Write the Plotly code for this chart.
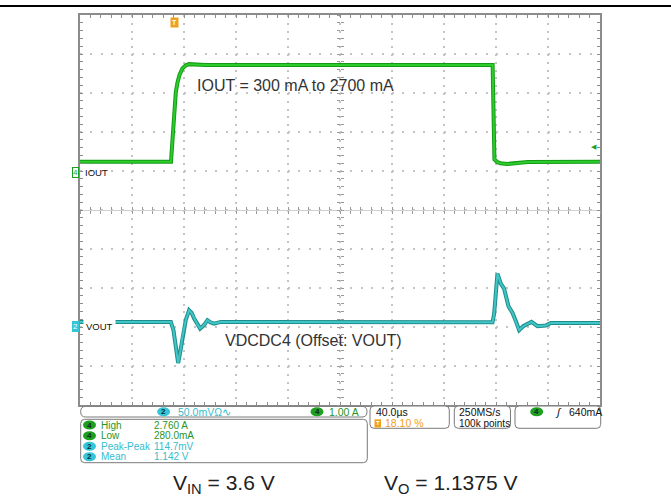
import plotly.graph_objects as go

# ---------------- data ----------------
TIME_PER_DIV_US = 40.0        # horizontal scale
TRIGGER_POS_PCT = 18.10       # trigger position in record
N_DIV = 10
CH4_A_PER_DIV = 1.0           # IOUT scale
CH4_OFFSET_DIV = 0.97         # ground marker position (div above centre)
CH2_MV_PER_DIV = 50.0         # VOUT scale (AC around offset)
CH2_OFFSET_DIV = -2.98        # VOUT offset marker position (div from centre)
TRIG_LEVEL_A = 0.64

iout_t_us = [-72.4, -2.4, -1.0, 0.0, 1.3, 2.6, 4.2, 6.4, 9.0, 11.5, 16.0, 24.0,
             245.0, 245.8, 246.4, 248.5, 251.0, 256.0, 262.0, 272.0, 327.6]
iout_a = [0.27, 0.27, 0.95, 1.55, 2.05, 2.30, 2.50, 2.66, 2.74, 2.77, 2.76, 2.75,
          2.75, 1.20, 0.33, 0.26, 0.23, 0.21, 0.22, 0.26, 0.27]

vout_t_us = [-72.4, -2.5, -0.5, 0.8, 3.1, 5.0, 6.4, 9.0, 11.5, 13.5, 15.4, 18.0, 20.0,
             23.0, 25.6, 28.0, 30.8, 35.9, 244.9, 246.2, 248.7, 251.3, 253.8, 257.2,
             260.3, 263.0, 265.4, 268.5, 274.9, 279.5, 285.9, 289.8, 327.6]
vout_mv = [5.5, 5.5, -5.0, -22.0, -47.2, -30.0, -13.7, 8.0, 20.5, 17.0, 9.8, 2.0, -3.0,
           1.5, 7.7, 5.0, 3.4, 5.5, 5.0, 16.2, 67.5, 54.7, 48.3, 25.6,
           17.0, 6.0, -5.1, 0.0, 5.5, 0.0, 0.9, 4.2, 4.0]

meas_labels = ["High", "Low", "Peak-Peak", "Mean"]
meas_values = ["2.760 A", "280.0mA", "114.7mV", "1.142 V"]
meas_channels = ["4", "4", "2", "2"]

# ---------------- geometry helpers ----------------
W, H = 671, 501
PL, PR, PT, PB = 80, 600, 15, 405


def fx(p):
    return p / W


def fy(p):
    return 1 - p / H


GREEN = "#1f9f1f"
GREEN_TXT = "#279627"
CYAN = "#33c6d8"
CYAN_TXT = "#36bccc"
ORANGE = "#f0a020"
FONT = "Liberation Sans, Arial, sans-serif"

t_left = -TRIGGER_POS_PCT / 100 * N_DIV * TIME_PER_DIV_US
t_right = t_left + N_DIV * TIME_PER_DIV_US
i_range = [(-N_DIV / 2 - CH4_OFFSET_DIV) * CH4_A_PER_DIV, (N_DIV / 2 - CH4_OFFSET_DIV) * CH4_A_PER_DIV]
v_range = [(-N_DIV / 2 - CH2_OFFSET_DIV) * CH2_MV_PER_DIV, (N_DIV / 2 - CH2_OFFSET_DIV) * CH2_MV_PER_DIV]

xdom = [fx(PL), fx(PR)]
ydom = [fy(PB), fy(PT)]

fig = go.Figure()

# dummy traces so the centre-graticule axes are created
fig.add_trace(go.Scatter(x=[None], y=[None], xaxis="x2", yaxis="y3", showlegend=False, hoverinfo="skip"))
fig.add_trace(go.Scatter(x=[None], y=[None], xaxis="x3", yaxis="y4", showlegend=False, hoverinfo="skip"))

# IOUT (channel 4)
fig.add_trace(go.Scatter(x=iout_t_us, y=iout_a, mode="lines", line=dict(color="#159a15", width=4),
                         xaxis="x", yaxis="y", showlegend=False, hoverinfo="skip"))
fig.add_trace(go.Scatter(x=iout_t_us, y=iout_a, mode="lines", line=dict(color="#2ccc2c", width=2),
                         xaxis="x", yaxis="y", showlegend=False, hoverinfo="skip"))
# VOUT (channel 2)
fig.add_trace(go.Scatter(x=vout_t_us, y=vout_mv, mode="lines", line=dict(color="#1f8c8c", width=4),
                         xaxis="x", yaxis="y2", showlegend=False, hoverinfo="skip"))
fig.add_trace(go.Scatter(x=vout_t_us, y=vout_mv, mode="lines", line=dict(color="#40c6c6", width=2),
                         xaxis="x", yaxis="y2", showlegend=False, hoverinfo="skip"))

grid_common = dict(showgrid=True, gridcolor="#c4c4c4", gridwidth=1.5, showline=True, mirror="ticks",
                   linecolor="#8c8c8c", linewidth=1.5, ticks="inside", ticklen=3, tickcolor="#8c8c8c",
                   showticklabels=False, zeroline=False, fixedrange=True, tickmode="linear")

layout_axes = dict(
    xaxis=dict(domain=xdom, range=[t_left, t_right], tick0=t_left, dtick=TIME_PER_DIV_US,
               griddash="2px,5.8px", anchor="y",
               minor=dict(dtick=TIME_PER_DIV_US / 5, tick0=t_left, ticks="inside", ticklen=3,
                          tickcolor="#8c8c8c", showgrid=False), **grid_common),
    yaxis=dict(domain=ydom, range=i_range, tick0=i_range[0], dtick=CH4_A_PER_DIV,
               griddash="2px,8.4px", anchor="x",
               minor=dict(dtick=CH4_A_PER_DIV / 5, tick0=i_range[0], ticks="inside", ticklen=3,
                          tickcolor="#8c8c8c", showgrid=False), **grid_common),
    yaxis2=dict(overlaying="y", anchor="x", range=v_range, visible=False, fixedrange=True),
    xaxis2=dict(overlaying="x", anchor="free", position=(ydom[0] + ydom[1]) / 2, range=[t_left, t_right],
                tickmode="linear", tick0=t_left, dtick=TIME_PER_DIV_US / 5, ticks="outside", ticklen=3,
                tickcolor="#9a9a9a", showline=True, linecolor="#d0d0d0", linewidth=1,
                showticklabels=False, showgrid=False, zeroline=False, side="bottom", fixedrange=True),
    xaxis3=dict(overlaying="x", anchor="free", position=(ydom[0] + ydom[1]) / 2, range=[t_left, t_right],
                tickmode="linear", tick0=t_left, dtick=TIME_PER_DIV_US / 5, ticks="inside", ticklen=3,
                tickcolor="#9a9a9a", showline=False,
                showticklabels=False, showgrid=False, zeroline=False, side="bottom", fixedrange=True),
    yaxis3=dict(overlaying="y", anchor="free", position=(xdom[0] + xdom[1]) / 2, range=i_range,
                tickmode="linear", tick0=i_range[0], dtick=CH4_A_PER_DIV / 5, ticks="outside", ticklen=3,
                tickcolor="#9a9a9a", showline=False, showticklabels=False, showgrid=False,
                zeroline=False, side="left", fixedrange=True),
    yaxis4=dict(overlaying="y", anchor="free", position=(xdom[0] + xdom[1]) / 2, range=i_range,
                tickmode="linear", tick0=i_range[0], dtick=CH4_A_PER_DIV / 5, ticks="inside", ticklen=3,
                tickcolor="#9a9a9a", showline=False, showticklabels=False, showgrid=False,
                zeroline=False, side="left", fixedrange=True),
)


def rrect(x0, y0, x1, y1, r):
    pts = [("M", x0 + r, y0), ("L", x1 - r, y0), ("Q", x1, y0, x1, y0 + r), ("L", x1, y1 - r),
           ("Q", x1, y1, x1 - r, y1), ("L", x0 + r, y1), ("Q", x0, y1, x0, y1 - r), ("L", x0, y0 + r),
           ("Q", x0, y0, x0 + r, y0)]
    s = ""
    for p in pts:
        cmd = p[0]
        coords = p[1:]
        parts = []
        for k in range(0, len(coords), 2):
            parts.append(f"{fx(coords[k]):.5f},{fy(coords[k + 1]):.5f}")
        s += cmd + " ".join(parts) + " "
    return s + "Z"


shapes = []
annotations = []

# top black rule
shapes.append(dict(type="line", xref="paper", yref="paper", x0=0, x1=1, y0=fy(6), y1=fy(6),
                   line=dict(color="black", width=2)))

# status boxes
for (x0, y0, x1, y1, r) in [(80.7, 406.4, 367, 417, 5), (80.7, 419.3, 367.3, 462.7, 4),
                            (370, 406, 449.3, 428.3, 4), (454.3, 406, 510.5, 428.3, 4),
                            (515, 406, 600.7, 428.3, 4)]:
    shapes.append(dict(type="path", xref="paper", yref="paper", path=rrect(x0, y0, x1, y1, r),
                       line=dict(color="#7a7a7a", width=1), fillcolor="white", layer="above"))


def badge(cx, cy, ch, w=13, h=9):
    col = GREEN if ch == "4" else CYAN
    shapes.append(dict(type="circle", xref="paper", yref="paper", x0=fx(cx - w / 2), x1=fx(cx + w / 2),
                       y0=fy(cy + h / 2), y1=fy(cy - h / 2), fillcolor=col, line=dict(width=0),
                       layer="above"))
    annotations.append(dict(xref="paper", yref="paper", x=fx(cx), y=fy(cy), text=f"<b>{ch}</b>",
                            showarrow=False, xanchor="center", yanchor="middle",
                            font=dict(family=FONT, size=8, color="#0b2a2a")))


def txt(x, y, s, color="black", size=10, anchor="left", family=FONT):
    annotations.append(dict(xref="paper", yref="paper", x=fx(x), y=fy(y), text=s, showarrow=False,
                            xanchor=anchor, yanchor="middle", font=dict(family=family, size=size, color=color)))


# top status row
badge(163.6, 411.7, "2")
txt(176, 411.7, "50.0mV\u03a9\u223f", CYAN_TXT, 10.5)
badge(317, 411.7, "4")
txt(327, 411.7, "1.00 A", GREEN_TXT, 10.5)

# measurement box
rows_y = [425.0, 435.7, 446.3, 456.7]
for ry, lab, val, ch in zip(rows_y, meas_labels, meas_values, meas_channels):
    badge(89.5, ry, ch)
    col = GREEN_TXT if ch == "4" else CYAN_TXT
    txt(98.5, ry, lab, col)
    txt(151.7, ry, val, col)

# time box
txt(374, 411.7, "40.0\u00b5s", "#111", 10.5)
shapes.append(dict(type="rect", xref="paper", yref="paper", x0=fx(374.5), x1=fx(381), y0=fy(427.5), y1=fy(419.3),
                   fillcolor=ORANGE, line=dict(width=0), layer="above"))
txt(377.8, 423.4, "<b>T</b>", "white", 6, "center")
txt(383.3, 423.3, "18.10 %", ORANGE, 10.5)
# sample box
txt(457, 411.7, "250MS/s", "#111", 10.5)
txt(457, 423.3, "100k points", "#111", 10)
# trigger box
badge(536.7, 411.7, "4")
txt(552.7, 411.7, "<i>\u0283</i>", "#111", 11)
txt(567.3, 411.7, "640mA", "#111", 10.5)

# in-graticule annotations
txt(195, 86, "IOUT = 300 mA to 2700 mA", "#333", 16)
txt(223, 340.5, "VDCDC4 (Offset: VOUT)", "#333", 16)
txt(171.5, 484, "V<sub>IN</sub> = 3.6 V", "#222", 21)
txt(381.5, 484, "V<sub>O</sub> = 1.1375 V", "#222", 21)

# channel ground / offset markers
annotations.append(dict(xref="paper", yref="y", x=fx(75), y=0, text="4", showarrow=False,
                        xanchor="center", yanchor="middle", bgcolor="white", bordercolor=GREEN,
                        borderwidth=1, borderpad=0, font=dict(family=FONT, size=8, color=GREEN)))
annotations.append(dict(xref="paper", yref="y", x=fx(82.5), y=0, text="IOUT", showarrow=False,
                        xanchor="left", yanchor="middle", font=dict(family=FONT, size=9.5, color="#111")))
annotations.append(dict(xref="paper", yref="y2", x=fx(75), y=0, text="2", showarrow=False,
                        xanchor="center", yanchor="middle", bgcolor=CYAN, bordercolor=CYAN,
                        borderwidth=1, borderpad=0, font=dict(family=FONT, size=8, color="white")))
annotations.append(dict(xref="paper", yref="y2", x=fx(82.5), y=0, text="VOUT", showarrow=False,
                        xanchor="left", yanchor="middle", bgcolor="white", borderpad=2,
                        font=dict(family=FONT, size=9.5, color="#111")))

# trigger position marker (t = 0) and trigger level marker
annotations.append(dict(xref="x", yref="paper", x=0, y=fy(23), text="<b>T</b>", showarrow=False,
                        xanchor="center", yanchor="middle", bgcolor=ORANGE, borderpad=1,
                        font=dict(family=FONT, size=7, color="white")))
annotations.append(dict(xref="x", yref="y", x=t_right, y=TRIG_LEVEL_A, text="\u25c0", showarrow=False,
                        xanchor="right", yanchor="middle", xshift=-1,
                        font=dict(family="DejaVu Sans", size=7, color=GREEN)))

fig.update_layout(width=W, height=H, margin=dict(l=0, r=0, t=0, b=0), paper_bgcolor="white",
                  plot_bgcolor="white", showlegend=False, shapes=shapes, annotations=annotations,
                  **layout_axes)

fig.write_html("out.html", config={"displayModeBar": False},
               post_script="document.body.style.margin='0';document.body.style.overflow='hidden';")
